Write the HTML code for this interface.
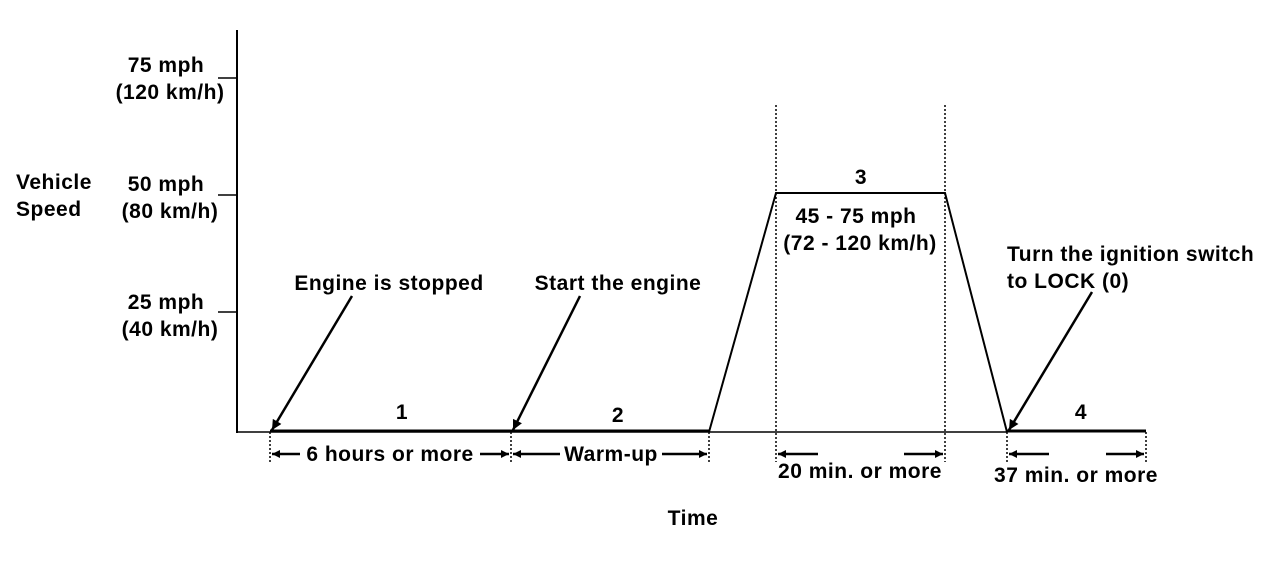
<!DOCTYPE html>
<html><head><style>body{margin:0;background:#fff}svg{display:block}text{font-family:"Liberation Sans",Arial,sans-serif;font-weight:bold;font-size:21px;letter-spacing:0.5px;fill:#000}</style></head><body>
<svg width="1280" height="562" viewBox="0 0 1280 562" xmlns="http://www.w3.org/2000/svg">
<defs><marker id="a" viewBox="0 0 10 10" refX="10" refY="5" markerWidth="14" markerHeight="8" orient="auto" markerUnits="userSpaceOnUse"><path d="M0,0L10,5L0,10z"/></marker>
<marker id="b" viewBox="0 0 10 10" refX="10" refY="5" markerWidth="18" markerHeight="10" orient="auto" markerUnits="userSpaceOnUse"><path d="M0,0L10,5L0,10z"/></marker></defs>
<g stroke="#000" fill="none">
<line x1="237" y1="30" x2="237" y2="433" stroke-width="2"/>
<line x1="218" y1="78" x2="237" y2="78" stroke-width="1.5"/>
<line x1="218" y1="195" x2="237" y2="195" stroke-width="1.5"/>
<line x1="218" y1="312" x2="237" y2="312" stroke-width="1.5"/>
<line x1="237" y1="432" x2="1007" y2="432" stroke-width="1.5"/>
<line x1="270" y1="431" x2="709" y2="431" stroke-width="3"/>
<polyline points="709,432 776,193 945,193 1007,432" stroke-width="2"/>
<line x1="1007" y1="431" x2="1146" y2="431" stroke-width="3"/>
<g stroke-dasharray="2,2" stroke-width="1.5">
<line x1="776" y1="105" x2="776" y2="462"/><line x1="945" y1="105" x2="945" y2="462"/>
<line x1="270" y1="432" x2="270" y2="462"/><line x1="511" y1="432" x2="511" y2="462"/><line x1="709" y1="432" x2="709" y2="462"/>
<line x1="1007" y1="432" x2="1007" y2="462"/><line x1="1146" y1="432" x2="1146" y2="462"/></g>
<g stroke-width="2.5">
<line x1="352" y1="296" x2="272" y2="430" marker-end="url(#b)"/>
<line x1="580" y1="296" x2="513" y2="430" marker-end="url(#b)"/>
<line x1="1092" y1="292" x2="1009" y2="430" marker-end="url(#b)"/>
<line x1="300" y1="454" x2="272" y2="454" marker-end="url(#a)"/>
<line x1="480" y1="454" x2="509" y2="454" marker-end="url(#a)"/>
<line x1="560" y1="454" x2="513" y2="454" marker-end="url(#a)"/>
<line x1="662" y1="454" x2="707" y2="454" marker-end="url(#a)"/>
<line x1="818" y1="454" x2="778" y2="454" marker-end="url(#a)"/>
<line x1="904" y1="454" x2="943" y2="454" marker-end="url(#a)"/>
<line x1="1049" y1="454" x2="1009" y2="454" marker-end="url(#a)"/>
<line x1="1106" y1="454" x2="1144" y2="454" marker-end="url(#a)"/>
</g></g>
<text x="16" y="189">Vehicle</text><text x="16" y="216">Speed</text>
<g text-anchor="middle">
<text x="166" y="72">75 mph</text><text x="170" y="99">(120 km/h)</text>
<text x="166" y="191">50 mph</text><text x="170" y="218">(80 km/h)</text>
<text x="166" y="309">25 mph</text><text x="170" y="336">(40 km/h)</text>
<text x="389" y="290">Engine is stopped</text>
<text x="618" y="290">Start the engine</text>
<text x="402" y="419">1</text><text x="618" y="422">2</text>
<text x="861" y="184">3</text><text x="1081" y="419">4</text>
<text x="856" y="223">45 - 75 mph</text><text x="860" y="250">(72 - 120 km/h)</text>
<text x="390" y="461">6 hours or more</text>
<text x="611" y="461">Warm-up</text>
<text x="860" y="478">20 min. or more</text>
<text x="1076" y="482">37 min. or more</text>
<text x="693" y="525">Time</text>
</g>
<text x="1007" y="261">Turn the ignition switch</text><text x="1007" y="288">to LOCK (0)</text>
</svg></body></html>
